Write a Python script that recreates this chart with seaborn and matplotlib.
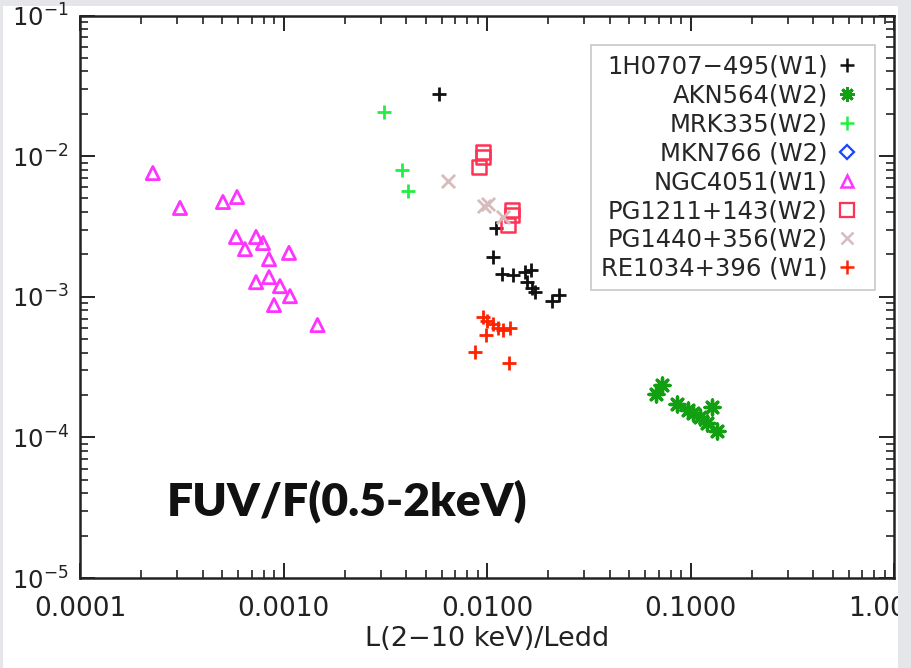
import numpy as np
import pandas as pd
import matplotlib
matplotlib.use("Agg")
import matplotlib.pyplot as plt
from matplotlib.lines import Line2D
from matplotlib.patches import Rectangle
import seaborn as sns

# ---- data: L(2-10 keV)/Ledd (x) and FUV/F(0.5-2 keV) (y) per source ----
h0707_x = [5.81e-3, 1.107e-2, 1.070e-2, 1.185e-2, 1.342e-2, 1.537e-2, 1.645e-2,
           1.573e-2, 1.664e-2, 1.722e-2, 2.087e-2, 2.259e-2]
h0707_y = [2.76e-2, 3.08e-3, 1.92e-3, 1.45e-3, 1.43e-3, 1.50e-3, 1.55e-3,
           1.27e-3, 1.15e-3, 1.08e-3, 9.32e-4, 1.03e-3]

akn564_x = [7.24e-2, 6.77e-2, 8.59e-2, 9.72e-2, 0.1029, 0.1114, 0.1276, 0.1205, 0.1350]
akn564_y = [2.36e-4, 2.03e-4, 1.72e-4, 1.56e-4, 1.49e-4, 1.39e-4, 1.64e-4, 1.26e-4, 1.11e-4]

mrk335_x = [3.12e-3, 3.82e-3, 4.09e-3]
mrk335_y = [2.06e-2, 7.97e-3, 5.65e-3]

mkn766_x = []
mkn766_y = []

ngc4051_x = [2.28e-4, 3.10e-4, 5.04e-4, 5.91e-4, 5.84e-4, 6.47e-4, 7.33e-4, 7.93e-4,
             8.49e-4, 1.064e-3, 7.33e-4, 8.49e-4, 9.61e-4, 1.076e-3, 8.98e-4, 1.469e-3]
ngc4051_y = [7.58e-3, 4.28e-3, 4.72e-3, 5.12e-3, 2.66e-3, 2.18e-3, 2.66e-3, 2.41e-3,
             1.85e-3, 2.05e-3, 1.27e-3, 1.38e-3, 1.19e-3, 1.01e-3, 8.73e-4, 6.29e-4]

pg1211_x = [9.56e-3, 9.56e-3, 9.14e-3, 1.327e-2, 1.327e-2, 1.268e-2]
pg1211_y = [1.07e-2, 9.85e-3, 8.36e-3, 4.14e-3, 3.81e-3, 3.24e-3]

pg1440_x = [6.43e-3, 9.67e-3, 1.011e-2, 1.199e-2]
pg1440_y = [6.65e-3, 4.42e-3, 4.56e-3, 3.69e-3]

re1034_x = [9.56e-3, 1.003e-2, 1.067e-2, 1.136e-2, 1.203e-2, 1.297e-2, 9.89e-3,
            8.73e-3, 1.287e-2]
re1034_y = [7.21e-4, 6.75e-4, 6.39e-4, 5.96e-4, 5.80e-4, 5.96e-4, 5.34e-4,
            4.06e-4, 3.39e-4]

source_labels = ["1H0707\u2212495(W1)", "AKN564(W2)", "MRK335(W2)", "MKN766 (W2)",
                 "NGC4051(W1)", "PG1211+143(W2)", "PG1440+356(W2)", "RE1034+396 (W1)"]

x_ticks = [1e-4, 1e-3, 1e-2, 1e-1, 1.0]
x_tick_labels = ["0.0001", "0.0010", "0.0100", "0.1000", "1.0000"]
y_ticks = [1e-5, 1e-4, 1e-3, 1e-2, 1e-1]
y_tick_labels = ["$10^{-5}$", "$10^{-4}$", "$10^{-3}$", "$10^{-2}$", "$10^{-1}$"]

# ---- marker styles per source: (marker, colour, open face, size, edge width) ----
styles = [
    ("+", "#111111", False, 110, 2.0),
    ((8, 2, 0), "#12a012", False, 115, 2.4),
    ("+", "#22ee44", False, 110, 2.0),
    ("D", "#1846ff", True, 60, 1.8),
    ("^", "#ff33ff", True, 90, 2.0),
    ("s", "#ff3355", True, 105, 1.8),
    ("x", "#d6bcbc", False, 90, 2.0),
    ("+", "#ff2200", False, 110, 2.0),
]

frames = []
for lab, xs, ys in zip(source_labels,
                       [h0707_x, akn564_x, mrk335_x, mkn766_x, ngc4051_x, pg1211_x, pg1440_x, re1034_x],
                       [h0707_y, akn564_y, mrk335_y, mkn766_y, ngc4051_y, pg1211_y, pg1440_y, re1034_y]):
    frames.append(pd.DataFrame({"ratio": xs, "fuv": ys, "source": lab}))
df = pd.concat(frames, ignore_index=True)

sns.set_theme(style="ticks")
plt.rcParams["font.family"] = ["DejaVu Sans"]

bg = "#e4e6ea"
fig = plt.figure(figsize=(9.12, 6.68), dpi=100, facecolor=bg)
# white panel behind the plot
fig.add_artist(Rectangle((3 / 912, 0), 895 / 912, 1 - 6 / 668, transform=fig.transFigure,
                         facecolor="white", edgecolor="none", zorder=-10))
ax = fig.add_axes([80 / 912, 1 - 578 / 668, 814 / 912, 562.5 / 668])
ax.set_facecolor("white")

for lab, (mk, col, open_face, size, lw) in zip(source_labels, styles):
    sub = df[df["source"] == lab]
    if sub.empty:
        continue
    if open_face:
        sns.scatterplot(data=sub, x="ratio", y="fuv", ax=ax, marker=mk, s=size,
                        facecolor="none", edgecolor=col, linewidth=lw, legend=False, zorder=3)
    else:
        sns.scatterplot(data=sub, x="ratio", y="fuv", ax=ax, marker=mk, s=size,
                        color=col, linewidth=lw, legend=False, zorder=3)

ax.set_xscale("log")
ax.set_yscale("log")
ax.set_xlim(1e-4, 1.0)
ax.set_ylim(1e-5, 1e-1)
ax.set_xticks(x_ticks)
ax.set_xticklabels(x_tick_labels)
ax.set_yticks(y_ticks)
ax.set_yticklabels(y_tick_labels)
ax.xaxis.set_minor_locator(matplotlib.ticker.LogLocator(base=10, subs=np.arange(2, 10)))
ax.yaxis.set_minor_locator(matplotlib.ticker.LogLocator(base=10, subs=np.arange(2, 10)))
ax.xaxis.set_minor_formatter(matplotlib.ticker.NullFormatter())
ax.yaxis.set_minor_formatter(matplotlib.ticker.NullFormatter())

ax.tick_params(which="both", direction="in", top=True, right=True, colors="#222222")
ax.tick_params(which="major", length=11, width=1.4)
ax.tick_params(which="minor", length=5.5, width=1.2)
ax.tick_params(axis="x", which="major", pad=13, labelsize=19)
ax.tick_params(axis="y", which="major", pad=8, labelsize=17.5)
for sp in ax.spines.values():
    sp.set_linewidth(1.8)
    sp.set_color("#222222")

ax.set_xlabel("L(2\u221210 keV)/Ledd", fontsize=19.5, labelpad=3, color="#222222")
ax.set_ylabel("")

ax.text(0.107, 0.112, "FUV/F(0.5-2keV)", transform=ax.transAxes, fontsize=33.3,
        fontweight="heavy", family="Lato", color="#111111", ha="left", va="baseline")

handles = []
for lab, (mk, col, open_face, size, lw) in zip(source_labels, styles):
    handles.append(Line2D([], [], linestyle="none", marker=mk, markersize=np.sqrt(size) * 0.95,
                          markeredgewidth=lw * 0.9, color=col,
                          markerfacecolor="none" if open_face else col,
                          markeredgecolor=col))
leg = ax.legend(handles, source_labels, loc="upper right",
                bbox_to_anchor=(875 / 912, 1 - 45 / 668), bbox_transform=fig.transFigure,
                markerfirst=False, fontsize=17.5, frameon=True, fancybox=False,
                labelspacing=0.2, handlelength=1.5, handletextpad=0.05,
                borderpad=0.4, borderaxespad=0)
leg.get_frame().set_edgecolor("#bbbbbb")
leg.get_frame().set_linewidth(1.2)

# grey margin that trims the right-hand edge of the panel
fig.add_artist(Rectangle((898 / 912, 0), 14 / 912, 1, transform=fig.transFigure,
                         facecolor=bg, edgecolor="none", zorder=20))

fig.savefig("out.png", dpi=100, facecolor=fig.get_facecolor())
